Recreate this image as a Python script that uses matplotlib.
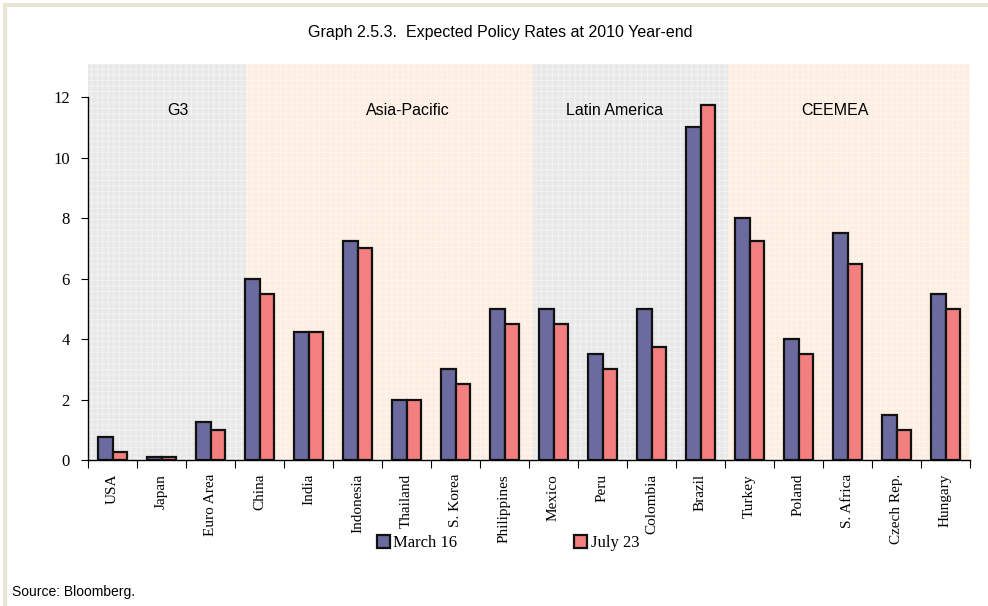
import matplotlib as mpl

mpl.use("Agg")

import matplotlib.pyplot as plt
import numpy as np
from matplotlib.patches import Rectangle

countries = [
    "USA", "Japan", "Euro Area", "China", "India", "Indonesia", "Thailand",
    "S. Korea", "Philippines", "Mexico", "Peru", "Colombia", "Brazil",
    "Turkey", "Poland", "S. Africa", "Czech Rep.", "Hungary",
]
march16 = [0.75, 0.1, 1.25, 6.0, 4.25, 7.25, 2.0, 3.0, 5.0, 5.0, 3.5, 5.0,
           11.0, 8.0, 4.0, 7.5, 1.5, 5.5]
july23 = [0.25, 0.1, 1.0, 5.5, 4.25, 7.0, 2.0, 2.5, 4.5, 4.5, 3.0, 3.75,
          11.75, 7.25, 3.5, 6.5, 1.0, 5.0]

regions = ["G3", "Asia-Pacific", "Latin America", "CEEMEA"]
region_edges = [-0.5, 2.72, 8.59, 12.57, 17.5]
region_label_x = [1.33, 6.02, 10.24, 14.75]
region_colors = ["#e8e8e8", "#fdeee2", "#e8e8e8", "#fdeee2"]
region_hatch = ["#f4f4f4", "#fff6ef", "#f4f4f4", "#fff6ef"]

SERIF = "Liberation Serif"
SANS = "Liberation Sans"

mpl.rcParams["hatch.linewidth"] = 0.6

fig = plt.figure(figsize=(9.88, 6.06), dpi=100)
ax = fig.add_axes([88 / 988, 1 - 460 / 606, (970 - 88) / 988, (460 - 64) / 606])

# frame lines of the page
fig.add_artist(plt.Line2D([5 / 988, 5 / 988], [0, 1 - 5 / 606], color="#e8e6d6", lw=3))
fig.add_artist(plt.Line2D([5 / 988, 1], [1 - 5 / 606, 1 - 5 / 606], color="#e8e6d6", lw=3))

ymax = 13.1
ax.set_xlim(-0.5, 17.5)
ax.set_ylim(0, ymax)

for name, x0, x1, lx, col, hcol in zip(regions, region_edges[:-1], region_edges[1:],
                                        region_label_x, region_colors, region_hatch):
    ax.add_patch(Rectangle((x0, 0), x1 - x0, ymax, facecolor=col, edgecolor=hcol,
                           lw=0, hatch="+++", zorder=0))
    ax.text(lx, 11.57, name, ha="center", va="center",
            fontsize=11.5, family=SANS, zorder=1)

x = np.arange(len(countries))
w = 0.3
ax.bar(x - w / 2, march16, w, color="#6b6ba0", edgecolor="#111111", lw=1.6,
       label="March 16", zorder=2)
ax.bar(x + w / 2, july23, w, color="#f47f7f", edgecolor="#111111", lw=1.6,
       label="July 23", zorder=2)

ax.spines["top"].set_visible(False)
ax.spines["right"].set_visible(False)
ax.spines["left"].set_bounds(0, 12)
ax.spines["left"].set_linewidth(1.0)
ax.spines["bottom"].set_linewidth(1.0)

ax.set_yticks(np.arange(0, 13, 2))
ax.set_yticklabels([str(v) for v in range(0, 13, 2)], family=SERIF, fontsize=12)
ax.tick_params(axis="y", direction="out", length=5, pad=8)

ax.set_xticks(np.arange(-0.5, 18, 1), minor=False)
ax.set_xticklabels([])
ax.tick_params(axis="x", which="major", direction="out", length=6)
ax.set_xticks(x, minor=True)
ax.set_xticklabels(countries, minor=True, rotation=90, family=SERIF, fontsize=11)
ax.tick_params(axis="x", which="minor", length=0, pad=10)

fig.text(500 / 988, 1 - 32 / 606, "Graph 2.5.3.  Expected Policy Rates at 2010 Year-end",
         ha="center", va="center", fontsize=11.5, family=SANS)
fig.text(12 / 988, 1 - 592 / 606, "Source: Bloomberg.", ha="left", va="center",
         fontsize=10, family=SANS)

leg = fig.legend(loc="center", bbox_to_anchor=(508 / 988, 1 - 543 / 606), ncol=2,
                 frameon=False, prop={"family": SERIF, "size": 12},
                 handlelength=0.8, handleheight=0.8, handletextpad=0.2,
                 columnspacing=7.0)

fig.savefig("out.png", dpi=100)
